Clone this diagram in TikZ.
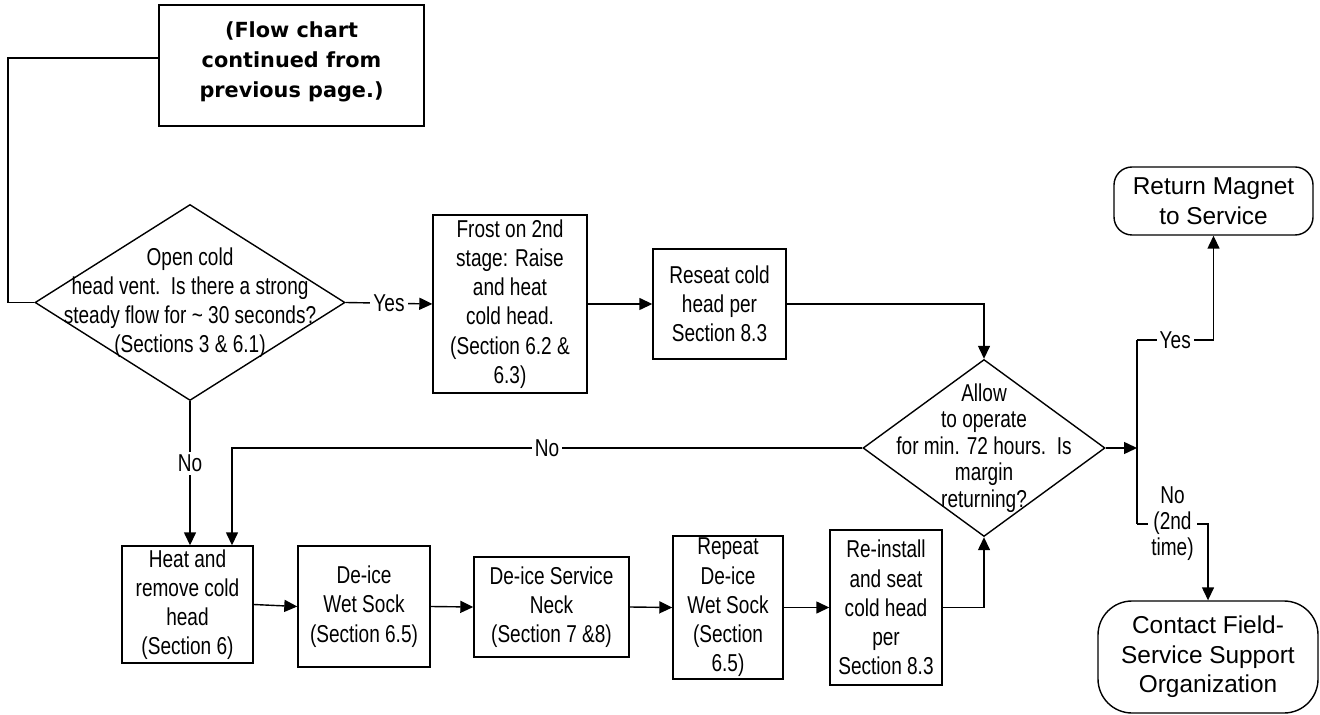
\documentclass[tikz,border=0pt]{standalone}
\usepackage{fontspec}
\setmainfont{Liberation Sans}
\newfontfamily\chartfont[FakeStretch=0.78]{Liberation Sans}
\newfontfamily\endfont{Liberation Sans}
\newfontfamily\notefont{DejaVu Sans}
\usetikzlibrary{calc, positioning}
\usetikzlibrary{arrows.meta}
\usetikzlibrary{shapes.geometric}

\tikzset{
  chartline/.style={line width=0.7pt},
  procbox/.style={draw, chartline, inner sep=0pt, align=center,
    font=\chartfont\fontsize{12.2pt}{14.6pt}\selectfont},
  decision/.style={draw, chartline, diamond, inner sep=0pt},
  dtext/.style={align=center, inner sep=0pt,
    font=\chartfont\fontsize{12.2pt}{14.6pt}\selectfont},
  terminal/.style={draw, chartline, inner sep=0pt, align=center,
    font=\endfont\fontsize{12.2pt}{14.8pt}\selectfont},
  notebox/.style={draw, line width=1pt, inner sep=0pt, align=center,
    font=\notefont\bfseries\fontsize{10.4pt}{15pt}\selectfont},
  flow/.style={chartline, -{Triangle[length=6.5pt,width=6pt]}},
  lbl/.style={fill=white, inner sep=1.5pt, align=center,
    font=\chartfont\fontsize{12.2pt}{13pt}\selectfont}
}

\begin{document}
\begin{tikzpicture}[x=0.5pt, y=-0.5pt]
\useasboundingbox[fill=white] (0,0) rectangle (1320,715);

\node[notebox, minimum width=132.5pt, minimum height=60.5pt] (contd) at (291.5,65.5)
  {(Flow chart\\continued from\\previous page.)\\[-9pt]};

\node[decision, minimum width=155pt, minimum height=98pt,
  label={[dtext]center:{Open cold\\head vent.\ \ Is there a strong\\steady flow for \textasciitilde{} 30 seconds?\\(Sections 3 \& 6.1)}}]
  (open) at (190,302.5) {};

\node[procbox, minimum width=77pt, minimum height=89pt] (frost) at (510,304)
  {Frost on 2nd\\stage: Raise\\and heat\\cold head.\\(Section 6.2 \&\\6.3)};
\node[procbox, minimum width=66.5pt, minimum height=55pt] (reseat) at (719.5,304)
  {Reseat cold\\head per\\Section 8.3};

\node[decision, minimum width=121pt, minimum height=88.5pt,
  label={[dtext, font=\chartfont\fontsize{12.2pt}{13.25pt}\selectfont]center:{Allow\\to operate\\for min. 72 hours.\ \ Is\\margin\\returning?}}]
  (margin) at (984,448) {};

\node[procbox, minimum width=65.5pt, minimum height=58.5pt] (heat) at (187.5,604.5)
  {Heat and\\remove cold\\head\\(Section 6)};
\node[procbox, minimum width=66pt, minimum height=60.5pt] (deice) at (364,606.5)
  {De-ice\\Wet Sock\\(Section 6.5)};
\node[procbox, minimum width=77.5pt, minimum height=50pt] (neck) at (551.5,607)
  {De-ice Service\\Neck\\(Section 7 \&8)};
\node[procbox, minimum width=55pt, minimum height=71.5pt] (repeat) at (728,607.5)
  {Repeat\\De-ice\\Wet Sock\\(Section\\6.5)};
\node[procbox, minimum width=56pt, minimum height=77.5pt] (reinstall) at (886,607.5)
  {Re-install\\and seat\\cold head\\per\\Section 8.3};

\node[terminal, rounded corners=9pt, minimum width=99.5pt, minimum height=34pt] (service) at (1213.5,201)
  {Return Magnet\\to Service};
\node[terminal, rounded corners=17pt, minimum width=110pt, minimum height=56pt] (contact) at (1208,657)
  {Contact Field-\\Service Support\\Organization};

\coordinate (loopturn) at (8,302.5);
\coordinate (backturn) at (232,448);
\coordinate (split) at (1137,448);
\coordinate (yesturn) at (1137,340);
\coordinate (noturn) at (1137,524);

\draw[chartline] ($(contd.west)+(0,-7.5)$) -| (loopturn) -- (open.west);
\draw[flow] (open.east) -- node[lbl] {Yes} (frost.west);
\draw[flow] (frost.east) -- (reseat.west);
\draw[flow] (reseat.east) -| (margin.north);
\draw[flow] (open.south) -- node[lbl, pos=0.43] {No} (open.south |- heat.north);
\draw[flow] (margin.west) -- node[lbl] {No} (backturn) -- (backturn |- heat.north);

\draw[flow] (heat.east) -- (deice.west);
\draw[flow] (deice.east) -- (neck.west);
\draw[flow] (neck.east) -- (repeat.west);
\draw[flow] (repeat.east) -- (reinstall.west);
\draw[flow] (reinstall.east) -| (margin.south);

\draw[flow] (margin.east) -- (split);
\draw[chartline] (yesturn) -- (noturn);
\draw[flow] (yesturn) -- node[lbl] {Yes} (yesturn -| service.south) -- (service.south);
\draw[flow] (noturn) -- node[lbl] {No\\(2nd\\time)} (noturn -| contact.north) -- (contact.north);
\end{tikzpicture}
\end{document}
